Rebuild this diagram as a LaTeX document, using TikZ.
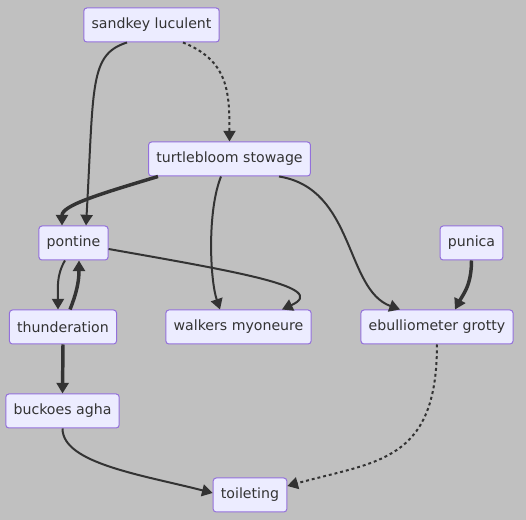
\documentclass[tikz,border=0pt]{standalone}
\usepackage{fontspec}
\setmainfont{DejaVu Sans}
\usetikzlibrary{arrows.meta,calc}
\definecolor{bggray}{HTML}{C0C0C0}
\definecolor{boxfill}{HTML}{ECECFF}
\definecolor{boxline}{HTML}{9370DB}
\definecolor{ink}{HTML}{333333}
\begin{document}
\begin{tikzpicture}[x=0.75pt, y=-0.75pt,
    box/.style={rectangle, draw=boxline, fill=boxfill, line width=0.75pt, rounded corners=2.25pt,
      minimum height=25.5pt, inner xsep=5.8pt, text=ink, font=\fontsize{10.6}{12}\selectfont},
    link/.style={draw=ink, line width=1.5pt, -{Triangle[length=8pt,width=9pt]}},
    heavy/.style={link, line width=2.6pt},
    dotlink/.style={link, dash pattern=on 2.2pt off 2.2pt}]
    \fill[bggray] (0,0) rectangle (526,520);
    \useasboundingbox (0,0) rectangle (526,520);

    \node[box] (sandkey) at (151.5,25) {sandkey luculent};
    \node[box] (turtle)  at (229.5,159) {turtlebloom stowage};
    \node[box] (pontine) at (73.5,243) {pontine};
    \node[box] (punica)  at (471.5,243) {punica};
    \node[box] (thunder) at (63,327) {thunderation};
    \node[box] (walkers) at (238.5,327) {walkers myoneure};
    \node[box] (ebull)   at (437,327) {ebulliometer grotty};
    \node[box] (buckoes) at (62.5,411) {buckoes agha};
    \node[box] (toilet)  at (250,495) {toileting};

    % from the top row
    \draw[link] ($(sandkey.south)+(-24.5,0)$) .. controls +(-38,12) and +(8,-140) .. ($(pontine.north)+(12.5,0)$);
    \draw[dotlink] ($(sandkey.south)+(31.5,0)$) .. controls +(45,18) and +(0,-50) .. (turtle.north);

    % out of turtlebloom
    \draw[heavy] ($(turtle.south)+(-71.5,0)$) .. controls +(-60,18) and +(0,-20) .. ($(pontine.north)+(-11.5,0)$);
    \draw[link] ($(turtle.south)+(-8.5,0)$) .. controls +(-14,35) and +(-10,-30) .. ($(walkers.north)+(-18.5,0)$);
    \draw[link] ($(turtle.south)+(49.5,0)$) .. controls +(76,12) and +(-55,-20) .. ($(ebull.north)+(-37,0)$);

    % pontine and thunderation
    \draw[link] ($(pontine.east)+(0,6)$) .. controls +(130,23) and +(48,-22) .. ($(walkers.north)+(43.5,0)$);
    \draw[link] ($(pontine.south)+(-8.5,0)$) .. controls +(-9,15) and +(0,-20) .. ($(thunder.north)+(-5,0)$);
    \draw[heavy] ($(thunder.north)+(7,0)$) .. controls +(6,-15) and +(0,22) .. ($(pontine.south)+(5.5,0)$);
    \draw[heavy] (punica.south) .. controls +(0,25) and +(8,-15) .. ($(ebull.north)+(18,0)$);
    \draw[heavy] (thunder.south) -- (buckoes.north);

    % into toileting
    \draw[link] (buckoes.south) .. controls +(0,35) and +(-70,-18) .. ($(toilet.west)+(0,-2)$);
    \draw[dotlink] (ebull.south) .. controls +(0,118) and +(90,-25) .. ($(toilet.east)+(0,-9)$);
\end{tikzpicture}
\end{document}
